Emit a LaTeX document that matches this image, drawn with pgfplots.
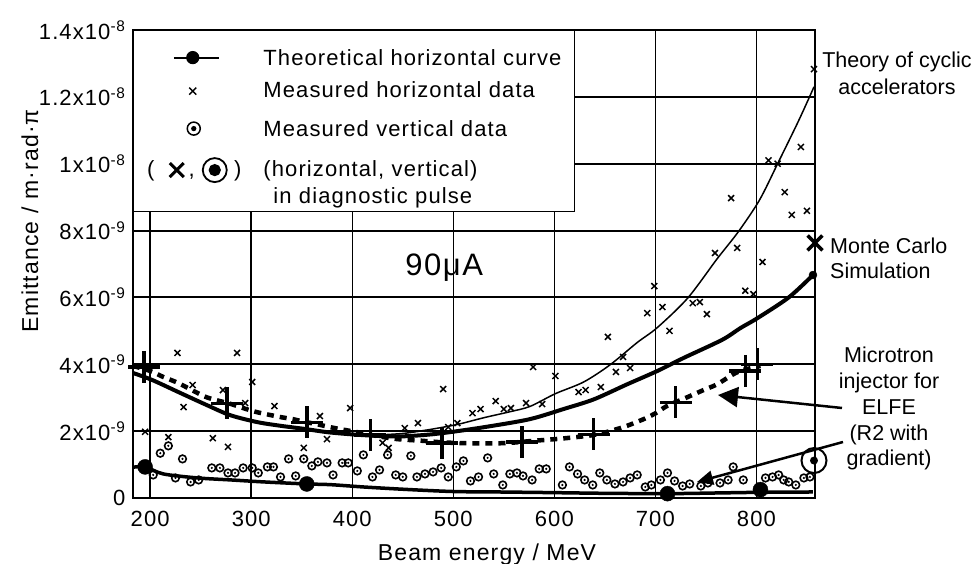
\documentclass[border=0pt]{standalone}
\usepackage{fontspec}
\setmainfont{Liberation Sans}[LetterSpace=5]
\newfontfamily\annfont{Liberation Sans}
\usepackage{pgfplots}
\pgfplotsset{compat=1.18}
\usetikzlibrary{arrows.meta}

\pgfdeclareplotmark{odot}{%
  \pgfpathcircle{\pgfpointorigin}{\pgfplotmarksize}\pgfusepathqstroke
  \pgfpathcircle{\pgfpointorigin}{0.32\pgfplotmarksize}\pgfusepathqfill}

\begin{document}
\begin{tikzpicture}[font=\fontsize{22}{24}\selectfont]
\useasboundingbox (-133pt,-66pt) rectangle (842pt,498pt);
\begin{axis}[
  at={(0pt,0pt)}, anchor=south west,
  scale only axis, width=682pt, height=468pt,
  xmin=183, xmax=858, ymin=0, ymax=14,
  clip=false,
  axis line style={line width=2pt},
  xtick={200,300,400,500,600,700,800},
  xticklabels={200,300,400,500,600,700,800},
  ytick={0,2,4,6,8,10,12,14},
  yticklabels={0,2x10\textsuperscript{-9},4x10\textsuperscript{-9},6x10\textsuperscript{-9},8x10\textsuperscript{-9},1x10\textsuperscript{-8},1.2x10\textsuperscript{-8},1.4x10\textsuperscript{-8}},
  extra y ticks={8}, extra y tick labels={},
  extra y tick style={grid=major, major grid style={line width=3pt, black}},
  major tick length=0pt,
  grid=major,
  major x grid style={line width=1.5pt, black},
  major y grid style={line width=2pt, black},
  xticklabel style={font=\fontsize{22}{24}\selectfont, yshift=-10pt},
  yticklabel style={font=\fontsize{22}{24}\selectfont, xshift=-4pt},
  xlabel={Beam energy / MeV},
  ylabel={Emittance / m·rad·π},
  xlabel style={font=\fontsize{23}{27}\selectfont, at={(axis description cs:0.519,-0.1325)}, anchor=base},
  ylabel style={font=\fontsize{23}{27}\selectfont, at={(axis description cs:-0.151,0.592)}, anchor=center},
  legend style={at={(0,1)}, anchor=north west, draw=black, line width=1.2pt, fill=white,
    inner xsep=12pt, inner ysep=6pt, row sep=0pt, column sep=22pt,
    font=\fontsize{22}{24}\selectfont,
    nodes={text width=299pt, align=left, inner sep=0pt},
    cells={anchor=base west}},
]
% legend
\addlegendimage{legend image code/.code={\draw[line width=2pt,black] (-20pt,8pt)--(25pt,8pt); \fill[black] (-1pt,8pt) circle (6pt);}}
\addlegendentry{\rule[-6pt]{0pt}{35pt}Theoretical horizontal curve}
\addlegendimage{legend image code/.code={\draw[line width=1.5pt,black] (-4.5pt,2.5pt)--(2.5pt,9.5pt) (-4.5pt,9.5pt)--(2.5pt,2.5pt);}}
\addlegendentry{\rule[-6pt]{0pt}{36pt}Measured horizontal data}
\addlegendimage{legend image code/.code={\draw[line width=1.5pt,black] (0pt,8pt) circle (6.5pt); \fill[black] (0pt,8pt) circle (2pt);}}
\addlegendentry{\rule[-6pt]{0pt}{44pt}Measured vertical data}
\addlegendimage{legend image code/.code={%
  \pgftext[base,x=-43pt,y=0pt]{\fontsize{22}{24}\selectfont (}%
  \draw[line width=3pt,black] (-24pt,-1pt)--(-10pt,13pt) (-24pt,13pt)--(-10pt,-1pt);%
  \pgftext[base,x=-2pt,y=0pt]{\fontsize{22}{24}\selectfont ,}%
  \draw[line width=1.8pt,black] (21pt,6pt) circle (12pt); \fill[black] (21pt,6pt) circle (5.5pt);%
  \pgftext[base,x=44pt,y=0pt]{\fontsize{22}{24}\selectfont )}}}
\addlegendentry{\rule[-6pt]{0pt}{44pt}(horizontal, vertical)}
\addlegendimage{empty legend}
\addlegendentry{\rule[-6pt]{0pt}{27pt}\hspace*{10pt}in diagnostic pulse}

% theory of cyclic accelerators (thin)
\addplot[forget plot, black, line width=1.5pt, smooth] coordinates {
(420,1.88) (450,1.93) (477,2.05) (504,2.2) (530,2.4) (556,2.58) (576,2.74) (601,3.12) (629,3.47) (655,3.98) (682,4.65) (702,5.1) (732,5.98) (761,7.15) (782,7.96) (803,8.91) (821,10.0) (842,11.3) (857,12.3)};
% Monte Carlo simulation (thick)
\addplot[forget plot, black, line width=4pt, smooth] coordinates {
(183,3.74) (202,3.53) (230,3.14) (256,2.78) (279,2.48) (306,2.27) (329,2.16) (352,2.07) (378,1.96) (411,1.88) (445,1.84) (477,1.9) (504,2.0) (537,2.15) (576,2.36) (609,2.66) (639,2.95) (672,3.4) (702,3.8) (728,4.19) (766,4.73) (784,5.08) (801,5.38) (832,6.0) (856,6.67)};
\addplot[forget plot, only marks, mark=*, mark size=4pt, black] coordinates {(856,6.67)};
% Microtron injector for ELFE (dashed)
\addplot[forget plot, black, line width=4.5pt, dash pattern=on 7pt off 6pt, smooth] coordinates {
(183,3.95) (200,3.8) (213,3.62) (227,3.45) (245,3.17) (257,3.0) (279,2.82) (292,2.69) (304,2.58) (316,2.5) (329,2.42) (341,2.36) (352,2.28) (363,2.22) (378,2.12) (390,2.05) (405,1.97) (425,1.85) (445,1.76) (470,1.71) (487,1.67) (510,1.64) (550,1.64) (579,1.71) (608,1.78) (638,1.88) (655,2.0) (672,2.16) (690,2.38) (701,2.55) (712,2.76) (732,3.02) (747,3.22) (761,3.4) (777,3.7) (787,3.83) (804,3.95)};
\addplot[forget plot, only marks, black, mark=+, mark size=16pt, mark options={line width=3.5pt}] coordinates {
(194,3.92) (276,2.83) (355,2.26) (418,1.88) (489,1.64) (568,1.67) (639,1.9) (720,2.86) (789,3.8) (801,4.0)};
% theoretical horizontal curve
\addplot[forget plot, black, line width=3.5pt, smooth] coordinates {
(183,0.92) (195,0.93) (213,0.72) (247,0.6) (280,0.54) (313,0.48) (355,0.42) (378,0.4) (411,0.33) (445,0.27) (478,0.22) (505,0.19) (545,0.18) (600,0.16) (650,0.14) (712,0.13) (760,0.15) (804,0.17) (856,0.18)};
\addplot[forget plot, only marks, black, mark=*, mark size=7.5pt] coordinates {
(195,0.93) (355,0.42) (712,0.13) (804,0.25)};
% measured horizontal data
\addplot[forget plot, only marks, black, mark=x, mark size=4.2pt, mark options={line width=1.5pt}] coordinates {
(227,4.34) (286,4.34) (301,3.47) (233,2.72) (242,3.38) (272,3.23) (294,2.84) (323,2.75) (368,2.45) (218,1.82) (262,1.79) (277,1.53) (352,1.5) (375,1.76) (195,1.98) (398,2.69) (430,1.65) (436,1.5) (452,2.09) (465,2.24) (490,3.26) (495,2.12) (504,2.24) (519,2.54) (527,2.66) (542,2.9) (550,2.66) (557,2.69) (572,2.84) (579,3.92) (588,2.81) (601,3.65) (624,3.17) (631,3.23) (646,3.32) (653,4.82) (661,3.77) (668,4.22) (675,3.89) (692,5.53) (699,6.34) (707,5.71) (714,5.0) (737,5.83) (744,5.86) (751,5.5) (759,7.33) (775,8.97) (781,7.48) (789,6.2) (797,6.1) (806,7.06) (812,10.1) (821,10.0) (828,9.15) (835,8.47) (844,10.5) (850,8.59) (857,12.83)};
% measured vertical data
\addplot[forget plot, only marks, black, mark=odot, mark size=3.8pt, mark options={line width=1.6pt, fill=black}] coordinates {
(203,0.69) (210,1.34) (218,1.56) (225,0.6) (232,1.17) (240,0.48) (248,0.54) (261,0.9) (269,0.9) (277,0.75) (284,0.75) (292,0.9) (301,0.9) (307,0.75) (316,0.93) (322,0.93) (329,0.63) (337,1.17) (344,0.66) (352,1.17) (360,0.96) (366,1.08) (375,1.05) (381,0.69) (390,1.05) (396,1.05) (405,0.81) (411,1.29) (420,0.63) (427,0.84) (435,1.29) (443,0.69) (450,0.63) (458,1.26) (464,0.63) (472,0.72) (480,0.78) (488,0.9) (495,0.63) (503,0.93) (510,1.11) (517,0.51) (525,0.63) (534,1.2) (540,0.72) (549,0.39) (556,0.72) (563,0.75) (569,0.66) (578,0.54) (585,0.87) (592,0.87) (608,0.39) (615,0.93) (623,0.72) (630,0.54) (638,0.39) (645,0.75) (652,0.54) (660,0.42) (668,0.48) (675,0.6) (682,0.69) (690,0.33) (696,0.39) (705,0.54) (712,0.75) (719,0.51) (727,0.36) (734,0.42) (745,0.36) (752,0.45) (764,0.45) (772,0.54) (777,0.93) (787,0.54) (809,0.6) (816,0.63) (822,0.69) (827,0.54) (832,0.48) (839,0.39) (847,0.6) (853,0.63)};
% diagnostic pulse points
\addplot[forget plot, only marks, black, mark=x, mark size=10.5pt, mark options={line width=3.5pt}] coordinates {(858,7.63)};
\addplot[forget plot, only marks, black, mark=odot, mark size=12.5pt, mark options={line width=2pt, fill=black}] coordinates {(857,1.12)};
\node[anchor=base, inner sep=0pt, font=\fontsize{31}{36}\selectfont] at (axis cs:491,6.67) {90μA};
\end{axis}
% annotations
\node[anchor=north, inner sep=0pt, align=center, font=\annfont\fontsize{21.5}{27}\selectfont] at (764pt,446pt) {Theory of cyclic\\accelerators};
\node[anchor=north west, inner sep=0pt, align=left, font=\annfont\fontsize{21.5}{25}\selectfont] at (697pt,260pt) {Monte Carlo\\Simulation};
\node[anchor=north, inner sep=0pt, align=center, font=\annfont\fontsize{21.5}{25.75}\selectfont] at (756pt,151pt) {Microtron\\injector for\\ELFE\\(R2 with\\gradient)};
\draw[line width=2.5pt, -{Triangle[length=20pt,width=20pt]}] (709pt,90pt) -- (585pt,103pt);
\draw[line width=2.5pt, -{Triangle[length=16pt,width=14pt]}] (710pt,56pt) -- (564pt,16pt);
\end{tikzpicture}
\end{document}
